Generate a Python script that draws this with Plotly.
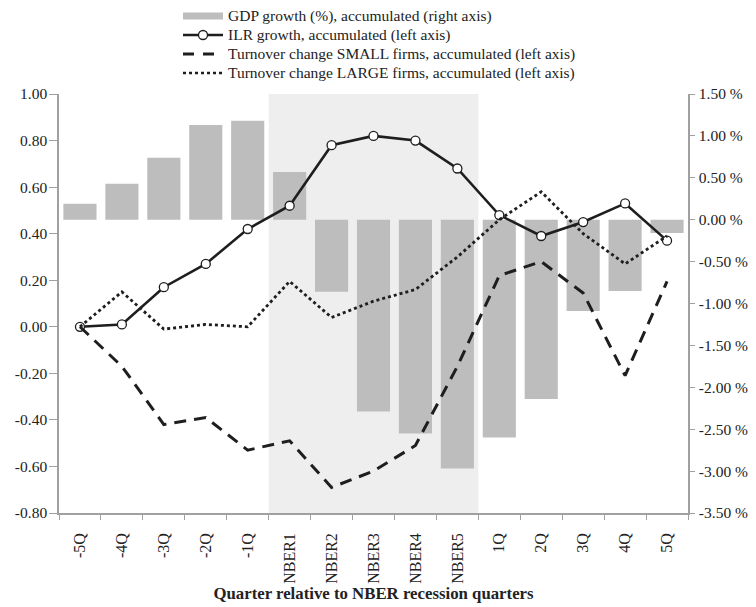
import plotly.graph_objects as go

quarters = ['-5Q', '-4Q', '-3Q', '-2Q', '-1Q', 'NBER1', 'NBER2', 'NBER3', 'NBER4', 'NBER5',
            '1Q', '2Q', '3Q', '4Q', '5Q']

# GDP growth (%), accumulated - right axis
gdp_growth = [0.19, 0.43, 0.74, 1.13, 1.18, 0.57, -0.86, -2.29, -2.55, -2.97,
              -2.60, -2.14, -1.09, -0.85, -0.16]
# ILR growth, accumulated - left axis
ilr_growth = [0.00, 0.01, 0.17, 0.27, 0.42, 0.52, 0.78, 0.82, 0.80, 0.68,
              0.48, 0.39, 0.45, 0.53, 0.37]
# turnover change, accumulated - left axis
small_firms = [0.00, -0.17, -0.42, -0.39, -0.53, -0.49, -0.69, -0.62, -0.51, -0.17,
               0.22, 0.28, 0.145, -0.21, 0.195]
large_firms = [0.00, 0.15, -0.01, 0.01, 0.00, 0.195, 0.04, 0.11, 0.16, 0.30,
               0.46, 0.58, 0.40, 0.27, 0.39]

left_ticks = [-0.8, -0.6, -0.4, -0.2, 0.0, 0.2, 0.4, 0.6, 0.8, 1.0]
right_ticks = [-3.5, -3.0, -2.5, -2.0, -1.5, -1.0, -0.5, 0.0, 0.5, 1.0, 1.5]

legend_labels = ['GDP growth (%), accumulated (right axis)',
                 'ILR growth, accumulated (left axis)',
                 'Turnover change SMALL firms, accumulated (left axis)',
                 'Turnover change LARGE firms, accumulated (left axis)']

font_family = 'Liberation Serif, Times New Roman, serif'
axis_col = '#a0a0a0'
bar_col = '#bdbdbd'
line_col = '#1e1e1e'

# plot area in page pixels (page has an 8px body margin)
PL, PT, PW, PH = 59, 94, 629, 419


def px(xp):
    return (xp - PL) / PW


def py(yp):
    return (PT + PH - yp) / PH


fig = go.Figure()

# bars go on the primary y axis (right side) so the lines on y2 are drawn on top
fig.add_trace(go.Bar(
    x=quarters, y=gdp_growth, name=legend_labels[0],
    marker=dict(color=bar_col, line=dict(width=0)),
    yaxis='y'
))
fig.add_trace(go.Scatter(
    x=quarters, y=ilr_growth, mode='lines+markers', name=legend_labels[1],
    line=dict(color=line_col, width=2.6),
    marker=dict(symbol='circle', size=9, color='white', line=dict(color=line_col, width=1.3)),
    yaxis='y2'
))
fig.add_trace(go.Scatter(
    x=quarters, y=small_firms, mode='lines', name=legend_labels[2],
    line=dict(color=line_col, width=3, dash='12px,8px'),
    yaxis='y2'
))
fig.add_trace(go.Scatter(
    x=quarters, y=large_firms, mode='lines', name=legend_labels[3],
    line=dict(color=line_col, width=2.8, dash='dot'),
    yaxis='y2'
))

# NBER recession window
fig.add_shape(type='rect', xref='x', yref='paper', x0=4.5, x1=9.5, y0=0, y1=1,
              fillcolor='#eeeeee', line=dict(width=0), layer='below')

# hand-built legend (tighter row spacing than plotly's own legend)
row_y = [16.0, 35.0, 54.0, 73.0]
sym_x0, sym_x1, text_x = 183, 223, 226
sym_styles = [dict(color=bar_col, width=7),
              dict(color=line_col, width=2.6),
              dict(color=line_col, width=3, dash='11px,9px'),
              dict(color=line_col, width=2.6, dash='dot')]
for label, yrow, style in zip(legend_labels, row_y, sym_styles):
    fig.add_shape(type='line', xref='paper', yref='paper',
                  x0=px(sym_x0), x1=px(sym_x1), y0=py(yrow), y1=py(yrow), line=style)
    fig.add_annotation(text=label, xref='paper', yref='paper', x=px(text_x), y=py(yrow),
                       xanchor='left', yanchor='middle', showarrow=False,
                       font=dict(size=15.5, family=font_family, color='#222222'))
mx = (sym_x0 + sym_x1) / 2
fig.add_shape(type='circle', xref='paper', yref='paper',
              x0=px(mx - 4.5), x1=px(mx + 4.5), y0=py(row_y[1] + 4.5), y1=py(row_y[1] - 4.5),
              fillcolor='white', line=dict(color=line_col, width=1.3))

fig.update_layout(
    width=748, height=599,
    margin=dict(l=51, r=68, t=86, b=94, autoexpand=False),
    paper_bgcolor='white', plot_bgcolor='white',
    font=dict(family=font_family, size=15.5, color='#222222'),
    bargap=0.21,
    showlegend=False,
    xaxis=dict(
        type='category', range=[-0.5, 14.5], tickangle=-90, showline=True,
        linecolor=axis_col, linewidth=1.5,
        ticks='outside', tickson='boundaries', ticklen=5, tickcolor=axis_col,
        ticklabelstandoff=12, showgrid=False, tickfont=dict(size=16),
        title=dict(text='<b>Quarter relative to NBER recession quarters</b>',
                   font=dict(size=16.8), standoff=4),
    ),
    yaxis=dict(
        side='right', range=[-3.5, 1.5], tickvals=right_ticks,
        ticktext=[f'{v:.2f} %' for v in right_ticks],
        showline=True, linecolor=axis_col, linewidth=1.5, ticks='outside', ticklen=5,
        ticklabelstandoff=1, tickcolor=axis_col, showgrid=False, zeroline=False,
        tickfont=dict(size=15.5),
    ),
    yaxis2=dict(
        overlaying='y', side='left', range=[-0.8, 1.0], tickvals=left_ticks,
        ticktext=[f'{v:.2f}' for v in left_ticks],
        showline=True, linecolor=axis_col, linewidth=1.5, ticks='outside', ticklen=8,
        ticklabelstandoff=-1, tickcolor=axis_col, showgrid=False, zeroline=False,
        tickfont=dict(size=15.5),
    ),
)

fig.write_html('out.html')
